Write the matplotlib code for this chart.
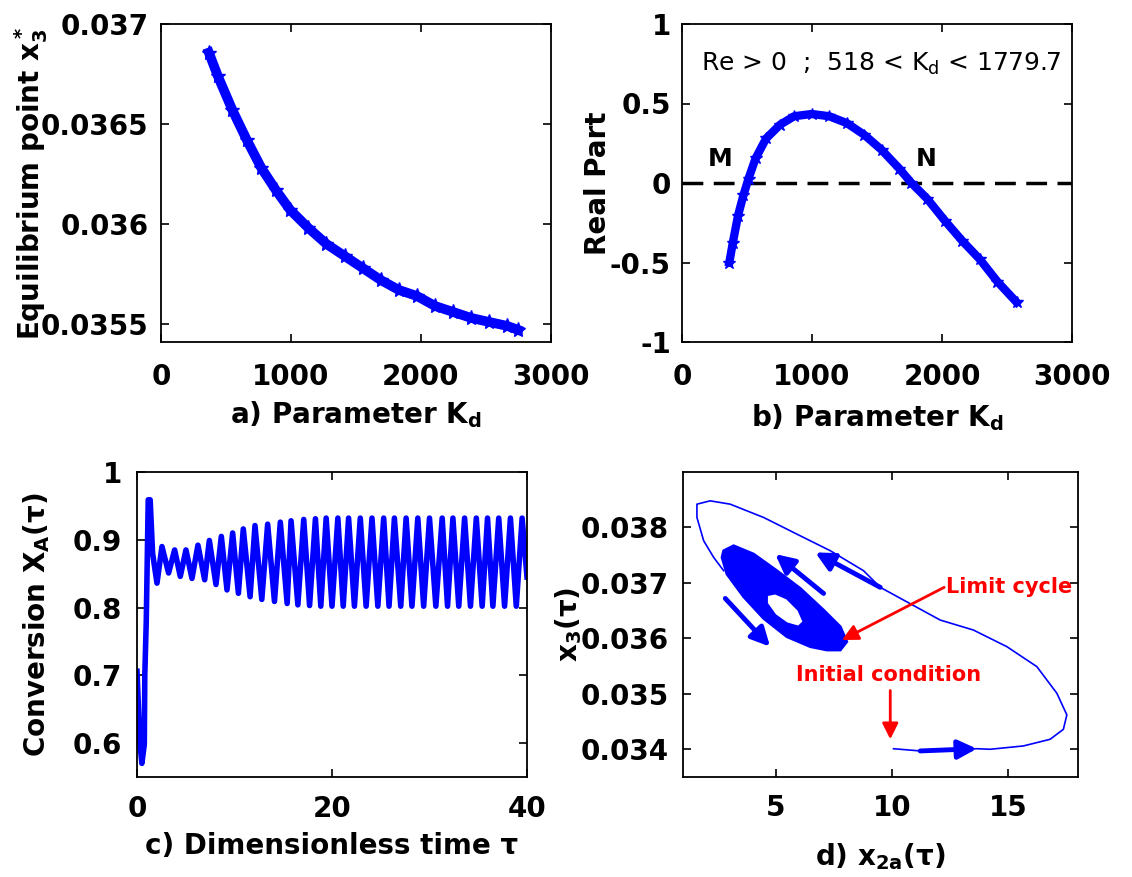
import matplotlib
matplotlib.use('Agg')
import matplotlib.pyplot as plt
from matplotlib.ticker import FuncFormatter

plt.rcParams['font.family'] = ['DejaVu Sans']
plt.rcParams['font.weight'] = 'bold'
plt.rcParams['axes.labelweight'] = 'bold'
plt.rcParams['mathtext.default'] = 'regular'

# a) equilibrium point x3* vs Kd
kd_a = [368, 437, 549, 660, 772, 883, 994, 1134, 1273, 1412, 1551, 1690, 1830, 1969,
        2108, 2248, 2387, 2526, 2665, 2749]
x3_eq = [0.036857, 0.03674, 0.03657, 0.03642, 0.03628, 0.03617, 0.03607, 0.03598,
         0.03590, 0.03584, 0.03578, 0.03572, 0.03567, 0.03564, 0.03559, 0.03556,
         0.03553, 0.03551, 0.03549, 0.03547]

# b) real part of eigenvalue vs Kd
kd_b = [364, 391, 431, 472, 512, 566, 647, 755, 863, 997, 1132, 1267, 1402, 1536,
        1671, 1765, 1887, 2022, 2156, 2291, 2426, 2574]
re_part = [-0.50, -0.375, -0.205, -0.078, 0.028, 0.155, 0.28, 0.367, 0.42, 0.434,
           0.42, 0.377, 0.303, 0.208, 0.091, 0.0, -0.10, -0.237, -0.364, -0.48,
           -0.62, -0.75]
zero_x = [0, 3000]
zero_y = [0, 0]

# c) conversion vs dimensionless time
tau = [0.0, 0.3, 0.5, 0.75, 0.8, 0.95, 1.15, 1.35, 1.6, 2.05, 2.56, 3.24, 3.86, 4.44,
       5.02, 5.64, 6.25, 6.94, 7.42, 8.1, 8.65, 9.23, 9.81, 10.4, 10.9, 11.6, 12.1,
       12.8, 13.4, 14.1, 14.7, 15.4, 15.8, 16.5, 17.1, 17.7, 18.3, 18.85, 19.4, 20.0,
       20.6, 21.15, 21.7, 22.3, 22.9, 23.5, 24.1, 24.7, 25.3, 25.85, 26.4, 27.05,
       27.6, 28.2, 28.8, 29.4, 30.0, 30.65, 31.3, 31.85, 32.4, 33.0, 33.6, 34.2, 34.8,
       35.4, 35.95, 36.5, 37.1, 37.7, 38.3, 38.9, 39.5, 40.0]
conv = [0.706, 0.60, 0.570, 0.598, 0.70, 0.78, 0.959, 0.959, 0.88, 0.836, 0.890, 0.851,
        0.885, 0.846, 0.885, 0.843, 0.892, 0.841, 0.899, 0.834, 0.905, 0.826, 0.910,
        0.821, 0.916, 0.816, 0.921, 0.812, 0.923, 0.809, 0.926, 0.806, 0.928, 0.804,
        0.930, 0.803, 0.931, 0.802, 0.932, 0.802, 0.932, 0.802, 0.932, 0.802, 0.932,
        0.802, 0.932, 0.802, 0.932, 0.802, 0.932, 0.802, 0.932, 0.802, 0.932, 0.802,
        0.932, 0.802, 0.932, 0.802, 0.932, 0.802, 0.932, 0.802, 0.932, 0.802, 0.932,
        0.802, 0.932, 0.802, 0.932, 0.802, 0.932, 0.845]

# d) phase portrait x2a - x3
traj_x = [10.06, 11.21, 13.65, 14.22, 15.65, 16.8, 17.37, 17.52, 17.09, 16.23, 14.94,
          13.5, 12.07, 9.49, 8.77, 7.34, 5.90, 4.47, 3.03, 2.17, 1.60, 1.60, 1.89,
          2.32, 2.75]
traj_y = [0.03401, 0.03397, 0.03401, 0.0340, 0.03406, 0.03418, 0.03436, 0.03462,
          0.03501, 0.03549, 0.03585, 0.03615, 0.03633, 0.03692, 0.03722, 0.03758,
          0.03788, 0.03818, 0.03842, 0.03848, 0.03842, 0.03818, 0.03776, 0.03746,
          0.03722]
cycle_x = [2.75, 3.18, 4.04, 5.04, 6.05, 7.05, 7.77, 8.05, 7.77, 7.19, 6.48, 5.47,
           4.47, 3.61, 2.89, 2.68]
cycle_y = [0.03758, 0.03767, 0.03752, 0.03722, 0.0369, 0.03651, 0.03621, 0.03594,
           0.03579, 0.03579, 0.03585, 0.03603, 0.03636, 0.03675, 0.03716, 0.03746]
hole_x = [4.61, 4.97, 5.47, 5.97, 6.19, 5.97, 5.47, 4.97, 4.61]
hole_y = [0.03678, 0.03681, 0.03672, 0.03651, 0.0363, 0.03621, 0.03627, 0.03642,
          0.03663]

W, H = 1132, 877
fig = plt.figure(figsize=(W / 100, H / 100), dpi=100)


def place(l, t, r, b):
    return fig.add_axes([l / W, 1 - b / H, (r - l) / W, (b - t) / H])


def style(ax, xpad, ypad):
    ax.tick_params(direction='in', top=True, right=True, length=6, width=1.2,
                   labelsize=20)
    ax.tick_params(axis='x', pad=xpad)
    ax.tick_params(axis='y', pad=ypad)
    for s in ax.spines.values():
        s.set_linewidth(1.3)
    ax.xaxis.set_major_formatter(FuncFormatter(lambda v, p: '%g' % v))
    ax.yaxis.set_major_formatter(FuncFormatter(lambda v, p: '%g' % v))


blue = '#0000ff'

# panel a
ax = place(161, 24, 551, 342)
ax.plot(kd_a, x3_eq, '-*', color=blue, lw=7, ms=11)
ax.set_xlim(0, 3000)
ax.set_ylim(0.03541, 0.037)
ax.set_xticks([0, 1000, 2000, 3000])
ax.set_yticks([0.0355, 0.036, 0.0365, 0.037])
style(ax, 15, 9)
ax.set_xlabel('a) Parameter K$_d$', fontsize=20, va='top')
ax.xaxis.set_label_coords(0.5, -0.18)
ax.set_ylabel('Equilibrium point x$_3^*$', fontsize=20)
ax.yaxis.set_label_coords(-0.285, 0.5)

# panel b
ax = place(682, 24, 1072, 342)
ax.plot(zero_x, zero_y, '--', color='k', lw=2.5, dashes=(6, 3))
ax.plot(kd_b, re_part, '-*', color=blue, lw=6, ms=9)
ax.set_xlim(0, 3000)
ax.set_ylim(-1, 1)
ax.set_xticks([0, 1000, 2000, 3000])
ax.set_yticks([-1, -0.5, 0, 0.5, 1])
style(ax, 15, 8)
ax.text(1535, 0.75, 'Re > 0  ;  518 < K$_d$ < 1779.7', fontsize=18,
        fontweight='normal', ha='center', va='center')
ax.text(296, 0.15, 'M', fontsize=18, ha='center', va='center')
ax.text(1882, 0.15, 'N', fontsize=18, ha='center', va='center')
ax.set_xlabel('b) Parameter K$_d$', fontsize=20, va='top')
ax.xaxis.set_label_coords(0.5, -0.19)
ax.set_ylabel('Real Part', fontsize=20)
ax.yaxis.set_label_coords(-0.18, 0.5)

# panel c
ax = place(137, 472, 527, 777)
ax.plot(tau, conv, '-', color=blue, lw=4)
ax.set_xlim(0, 40)
ax.set_ylim(0.55, 1.0)
ax.set_xticks([0, 20, 40])
ax.set_yticks([0.6, 0.7, 0.8, 0.9, 1.0])
style(ax, 13, 11)
ax.set_xlabel('c) Dimensionless time τ', fontsize=20, va='top')
ax.xaxis.set_label_coords(0.5, -0.18)
ax.set_ylabel('Conversion X$_A$(τ)', fontsize=20)
ax.yaxis.set_label_coords(-0.218, 0.5)

# panel d
ax = place(683, 472, 1078, 777)
ax.plot(traj_x, traj_y, '-', color=blue, lw=1.2)
ax.fill(cycle_x, cycle_y, color=blue, lw=2)
ax.fill(hole_x, hole_y, color='white', ec=blue, lw=1.5)
arrows = [((9.49, 0.03692), (6.69, 0.03755)),
          ((7.05, 0.03681), (4.97, 0.03752)),
          ((2.82, 0.03672), (4.75, 0.03585)),
          ((11.21, 0.03397), (13.65, 0.03401))]
for tail, tip in arrows:
    ax.annotate('', xy=tip, xytext=tail,
                arrowprops=dict(arrowstyle='-|>', color=blue, lw=3.5,
                                mutation_scale=28, shrinkA=0, shrinkB=0))
ax.annotate('', xy=(7.84, 0.03597), xytext=(12.24, 0.03692),
            arrowprops=dict(arrowstyle='-|>', color='red', lw=2,
                            mutation_scale=24, shrinkA=0, shrinkB=0))
ax.annotate('', xy=(9.92, 0.03418), xytext=(9.92, 0.03506),
            arrowprops=dict(arrowstyle='-|>', color='red', lw=2,
                            mutation_scale=24, shrinkA=0, shrinkB=0))
ax.text(12.3, 0.03692, 'Limit cycle', color='red', fontsize=15, ha='left', va='center')
ax.text(9.85, 0.03534, 'Initial condition', color='red', fontsize=15,
        ha='center', va='center')
ax.set_xlim(1, 18)
ax.set_ylim(0.0335, 0.039)
ax.set_xticks([5, 10, 15])
ax.set_yticks([0.034, 0.035, 0.036, 0.037, 0.038])
style(ax, 12, 10)
ax.set_xlabel('d) x$_{2a}$(τ)', fontsize=20, va='top')
ax.xaxis.set_label_coords(0.5, -0.21)
ax.set_ylabel('x$_3$(τ)', fontsize=20)
ax.yaxis.set_label_coords(-0.25, 0.5)

fig.savefig('out.png', dpi=100)
